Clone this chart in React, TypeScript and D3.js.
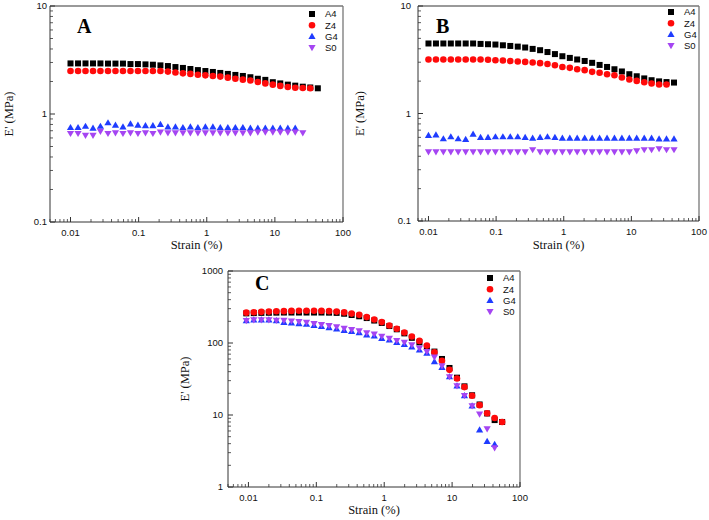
import React from "react";
import * as d3 from "d3";

// ---------- data ----------
const seriesNames = ["A4", "Z4", "G4", "S0"];

const strainAB = [0.01, 0.0129, 0.0166, 0.0214, 0.0275, 0.0355, 0.0457, 0.0589, 0.0759, 0.0977, 0.126, 0.162, 0.209, 0.269, 0.347, 0.447, 0.575, 0.741, 0.955, 1.23, 1.58, 2.04, 2.63, 3.39, 4.37, 5.62, 7.24, 9.33, 12.0, 15.5, 19.9, 25.7, 33.1, 42.7];
const strainC = [0.0093, 0.012, 0.0155, 0.02, 0.0258, 0.0333, 0.043, 0.0555, 0.0717, 0.0925, 0.119, 0.154, 0.199, 0.257, 0.331, 0.428, 0.552, 0.713, 0.92, 1.19, 1.53, 1.98, 2.55, 3.3, 4.25, 5.49, 7.09, 9.15, 11.8, 15.2, 19.7, 25.4, 32.8, 42.3, 54.6];

// Panel A
const aA4 = [2.94, 2.94, 2.94, 2.94, 2.94, 2.93, 2.93, 2.93, 2.9, 2.9, 2.88, 2.86, 2.82, 2.78, 2.72, 2.67, 2.61, 2.55, 2.5, 2.45, 2.4, 2.35, 2.3, 2.25, 2.19, 2.12, 2.07, 1.97, 1.92, 1.87, 1.83, 1.79, 1.76, 1.73];
const aZ4 = [2.5, 2.5, 2.5, 2.5, 2.5, 2.5, 2.5, 2.5, 2.5, 2.5, 2.5, 2.5, 2.5, 2.47, 2.42, 2.38, 2.35, 2.31, 2.28, 2.25, 2.22, 2.17, 2.12, 2.08, 2.04, 1.98, 1.92, 1.87, 1.82, 1.78, 1.75, 1.74, 1.73];
const aG4 = [0.75, 0.75, 0.77, 0.74, 0.77, 0.83, 0.79, 0.76, 0.81, 0.79, 0.78, 0.78, 0.8, 0.76, 0.76, 0.75, 0.76, 0.75, 0.76, 0.76, 0.75, 0.75, 0.75, 0.75, 0.74, 0.74, 0.74, 0.74, 0.74, 0.74, 0.74];
const aS0 = [0.66, 0.66, 0.635, 0.635, 0.69, 0.66, 0.67, 0.66, 0.67, 0.66, 0.67, 0.66, 0.68, 0.67, 0.67, 0.67, 0.67, 0.67, 0.67, 0.67, 0.67, 0.67, 0.67, 0.67, 0.67, 0.68, 0.68, 0.68, 0.68, 0.68, 0.68, 0.67];

// Panel B
const bA4 = [4.48, 4.48, 4.48, 4.48, 4.48, 4.48, 4.48, 4.44, 4.41, 4.38, 4.31, 4.25, 4.19, 4.11, 3.99, 3.88, 3.73, 3.57, 3.41, 3.29, 3.18, 3.08, 2.96, 2.83, 2.71, 2.58, 2.46, 2.32, 2.22, 2.12, 2.04, 1.99, 1.96, 1.94];
const bZ4 = [3.18, 3.18, 3.18, 3.18, 3.18, 3.18, 3.18, 3.18, 3.16, 3.13, 3.11, 3.08, 3.05, 3.02, 2.98, 2.94, 2.89, 2.81, 2.71, 2.66, 2.58, 2.53, 2.44, 2.39, 2.32, 2.27, 2.16, 2.07, 2.01, 1.95, 1.9, 1.86, 1.86];
const bG4 = [0.625, 0.634, 0.582, 0.608, 0.582, 0.574, 0.644, 0.6, 0.6, 0.608, 0.608, 0.608, 0.608, 0.6, 0.59, 0.6, 0.608, 0.6, 0.59, 0.59, 0.59, 0.59, 0.59, 0.59, 0.59, 0.59, 0.59, 0.59, 0.59, 0.59, 0.59, 0.58, 0.58, 0.58];
const bS0 = [0.44, 0.44, 0.44, 0.44, 0.44, 0.44, 0.44, 0.44, 0.44, 0.44, 0.44, 0.44, 0.44, 0.44, 0.46, 0.44, 0.44, 0.44, 0.44, 0.44, 0.44, 0.44, 0.44, 0.44, 0.44, 0.44, 0.44, 0.44, 0.45, 0.46, 0.46, 0.47, 0.46, 0.46];

// Panel C
const cA4 = [258, 260, 262, 263, 264, 265, 265, 265, 265, 265, 265, 264, 262, 255, 245, 235, 222, 205, 190, 172, 155, 136, 118, 102, 88, 76, 60, 45, 33, 25, 18.8, 14, 10.5, 8.5, 8.0];
const cZ4 = [264, 267, 271, 273, 276, 277, 279, 280, 281, 280, 279, 277, 273, 266, 256, 246, 229, 212, 195, 175, 158, 140, 123, 107, 92, 74.5, 56.5, 42.4, 32.1, 24.4, 18.5, 13.7, 10.6, 9.1, 8.0];
const cG4 = [205, 209, 209, 209, 204, 194, 190, 186, 182, 175, 170, 164, 157, 150, 145, 139, 130, 125, 116, 110, 102, 96, 88, 80, 72, 55, 46, 34, 25.4, 18.6, 13.4, 6.2, 4.3, 3.9];
const cS0 = [205, 209, 209, 209, 206, 206, 202, 198, 194, 186, 180, 174, 167, 160, 153, 147, 138, 133, 124, 116, 108, 102, 94, 85, 76, 63.5, 48, 34, 25.4, 18.6, 13.4, 10.3, 6.4, 3.5];

const xTickValues = [0.01, 0.1, 1, 10, 100];
const xTickLabels = ["0.01", "0.1", "1", "10", "100"];
const yTicksAB = [0.1, 1, 10];
const yTickLabelsAB = ["0.1", "1", "10"];
const yTicksC = [1, 10, 100, 1000];
const yTickLabelsC = ["1", "10", "100", "1000"];

// ---------- styles ----------
const COLORS: Record<string, string> = {
  A4: "#000000",
  Z4: "#ff0a0a",
  G4: "#1f3cff",
  S0: "#a545f2",
};
const SANS = "'Liberation Sans', Arial, sans-serif";
const SERIF = "'Liberation Serif', 'Times New Roman', serif";

type PanelCfg = {
  letter: string;
  left: number; right: number; top: number; bottom: number;
  xDomain: [number, number];
  yDomain: [number, number];
  strain: number[];
  data: number[][];
  yTicks: number[]; yTickLabels: string[];
  yTitleX: number; tickGap: number;
  letterX: number; letterY: number;
  legendX: number; legendY: number;
  xTitleY: number;
};

const panels: PanelCfg[] = [
  {
    letter: "A", left: 50, right: 343, top: 6, bottom: 222,
    xDomain: [0.005, 100], yDomain: [0.1, 10], strain: strainAB,
    data: [aA4, aZ4, aG4, aS0], yTicks: yTicksAB, yTickLabels: yTickLabelsAB,
    yTitleX: 9, tickGap: 3, letterX: 77, letterY: 33, legendX: 312, legendY: 14, xTitleY: 249,
  },
  {
    letter: "B", left: 418, right: 699, top: 6, bottom: 221,
    xDomain: [0.007, 100], yDomain: [0.1, 10], strain: strainAB,
    data: [bA4, bZ4, bG4, bS0], yTicks: yTicksAB, yTickLabels: yTickLabelsAB,
    yTitleX: 360, tickGap: 7, letterX: 436, letterY: 33, legendX: 671, legendY: 12, xTitleY: 249,
  },
  {
    letter: "C", left: 228, right: 520, top: 271, bottom: 487,
    xDomain: [0.005, 100], yDomain: [1, 1000], strain: strainC,
    data: [cA4, cZ4, cG4, cS0], yTicks: yTicksC, yTickLabels: yTickLabelsC,
    yTitleX: 185, tickGap: 5, letterX: 255, letterY: 290, legendX: 490, legendY: 278, xTitleY: 514,
  },
];

function Marker({ name, x, y }: { name: string; x: number; y: number }) {
  const c = COLORS[name];
  if (name === "A4") return <rect x={x - 3} y={y - 3} width={6} height={6} fill={c} />;
  if (name === "Z4") return <circle cx={x} cy={y} r={3.3} fill={c} />;
  if (name === "G4")
    return <path d={`M${x},${y - 3.6}L${x + 3.6},${y + 2.6}L${x - 3.6},${y + 2.6}Z`} fill={c} />;
  return <path d={`M${x},${y + 3.6}L${x + 3.6},${y - 2.6}L${x - 3.6},${y - 2.6}Z`} fill={c} />;
}

function minorTicks(domain: [number, number]) {
  const out: number[] = [];
  const lo = Math.floor(Math.log10(domain[0]));
  const hi = Math.ceil(Math.log10(domain[1]));
  for (let d = lo; d < hi; d++) {
    for (let m = 2; m <= 9; m++) {
      const v = m * Math.pow(10, d);
      if (v >= domain[0] * 0.999 && v <= domain[1] * 1.001) out.push(v);
    }
  }
  return out;
}

function Panel({ p }: { p: PanelCfg }) {
  const x = d3.scaleLog().domain(p.xDomain).range([p.left, p.right]);
  const y = d3.scaleLog().domain(p.yDomain).range([p.bottom, p.top]);
  const axisColor = "#333";
  const frameColor = "#777";
  const xMinor = minorTicks(p.xDomain);
  const yMinor = minorTicks(p.yDomain);
  return (
    <g>
      {/* frame */}
      <line x1={p.left} x2={p.right} y1={p.top} y2={p.top} stroke={frameColor} strokeWidth={1.3} />
      <line x1={p.right} x2={p.right} y1={p.top} y2={p.bottom} stroke={frameColor} strokeWidth={1.3} />
      <line x1={p.left} x2={p.right} y1={p.bottom} y2={p.bottom} stroke={axisColor} strokeWidth={1} />
      <line x1={p.left} x2={p.left} y1={p.top} y2={p.bottom} stroke={axisColor} strokeWidth={1} />
      {/* x ticks */}
      {xMinor.map((v, i) => (
        <line key={"xm" + i} x1={x(v)} x2={x(v)} y1={p.bottom} y2={p.bottom - 3} stroke={axisColor} strokeWidth={0.8} />
      ))}
      {xTickValues.map((v, i) => (
        <g key={"xt" + i}>
          <line x1={x(v)} x2={x(v)} y1={p.bottom} y2={p.bottom - 5} stroke={axisColor} strokeWidth={1} />
          <text x={x(v)} y={p.bottom + 13.5} fontSize={9.5} fontFamily={SANS} textAnchor="middle" fill="#111">
            {xTickLabels[i]}
          </text>
        </g>
      ))}
      {/* y ticks */}
      {yMinor.map((v, i) => (
        <line key={"ym" + i} x1={p.left} x2={p.left + 3} y1={y(v)} y2={y(v)} stroke={axisColor} strokeWidth={0.8} />
      ))}
      {p.yTicks.map((v, i) => (
        <g key={"yt" + i}>
          <line x1={p.left} x2={p.left + 5} y1={y(v)} y2={y(v)} stroke={axisColor} strokeWidth={1} />
          <text x={p.left - p.tickGap} y={y(v) + 3.3} fontSize={9.5} fontFamily={SANS} textAnchor="end" fill="#111">
            {p.yTickLabels[i]}
          </text>
        </g>
      ))}
      {/* titles */}
      <text x={(p.left + p.right) / 2} y={p.xTitleY} fontSize={12.5} fontFamily={SERIF} textAnchor="middle" fill="#111">
        Strain (%)
      </text>
      <text
        transform={`translate(${p.yTitleX + 4},${(p.top + p.bottom) / 2}) rotate(-90)`}
        fontSize={12.5} fontFamily={SERIF} textAnchor="middle" fill="#111"
      >
        E' (MPa)
      </text>
      <text x={p.letterX} y={p.letterY} fontSize={20} fontWeight="bold" fontFamily={SERIF} fill="#000">
        {p.letter}
      </text>
      {/* data */}
      {p.data.map((vals, si) => (
        <g key={"s" + si}>
          {vals.map((v, i) => (
            <Marker key={i} name={seriesNames[si]} x={x(p.strain[i])} y={y(v)} />
          ))}
        </g>
      ))}
      {/* legend */}
      {seriesNames.map((n, i) => (
        <g key={"lg" + n}>
          <Marker name={n} x={p.legendX} y={p.legendY + i * 11.2} />
          <text x={p.legendX + 13} y={p.legendY + i * 11.2 + 3.3} fontSize={9.5} fontFamily={SANS} fill="#111">
            {n}
          </text>
        </g>
      ))}
    </g>
  );
}

export default function App() {
  return (
    <svg
      width={709}
      height={520}
      viewBox="0 0 709 520"
      style={{ position: "absolute", left: 0, top: 0, background: "#fff" }}
    >
      <rect x={0} y={0} width={709} height={520} fill="#fff" />
      {panels.map((p) => (
        <Panel key={p.letter} p={p} />
      ))}
    </svg>
  );
}
